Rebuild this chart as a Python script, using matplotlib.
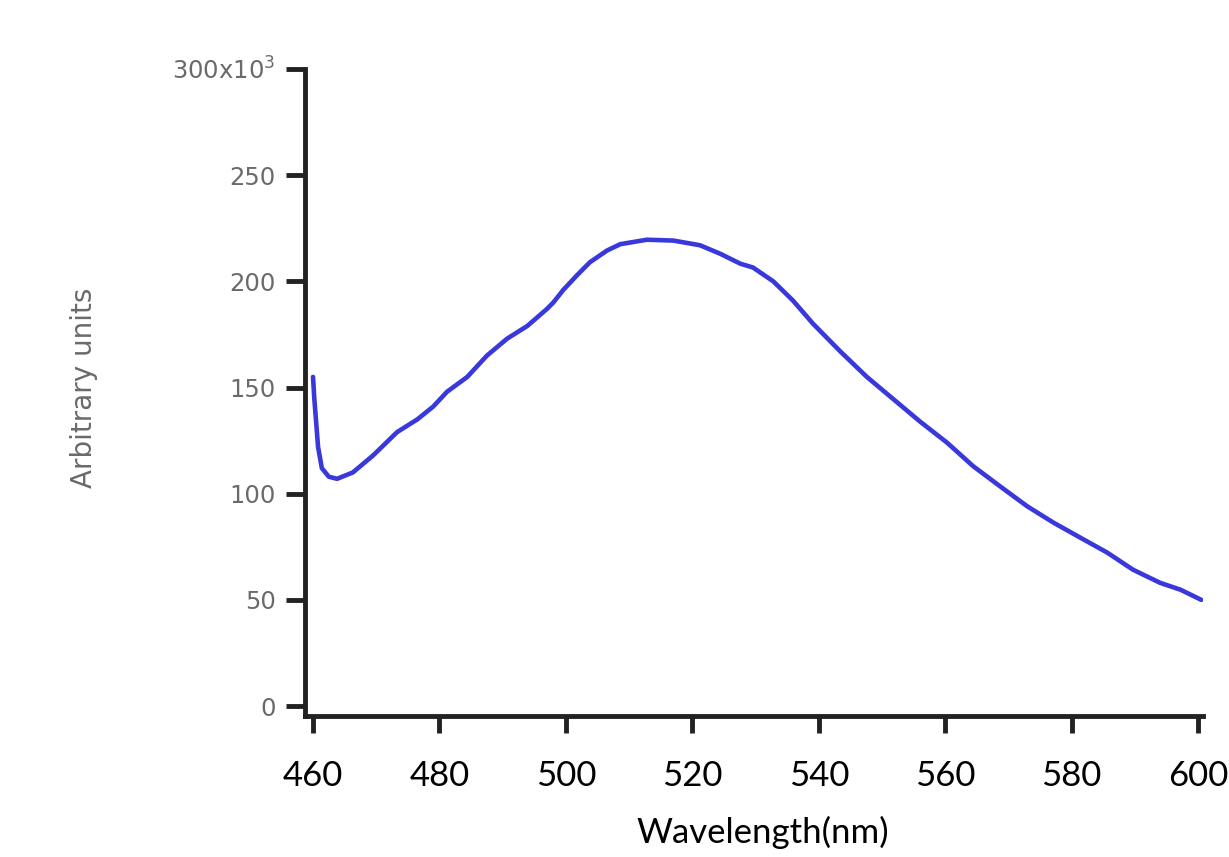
import matplotlib
matplotlib.use("Agg")
import matplotlib.pyplot as plt


# Emission spectrum, values
wavelength = [460.0, 460.2, 460.8, 461.4, 462.5, 463.8, 466.3, 469.5,
              473.3, 476.5, 479.0, 481.2, 484.4, 487.5, 490.7, 493.9,
              497.0, 498.0, 499.6, 501.8, 503.8, 506.5, 508.6, 512.8,
              517.0, 521.2, 524.4, 527.6, 529.6, 532.8, 535.9, 539.1,
              543.4, 547.6, 551.8, 556.0, 560.3, 564.4, 568.7, 573.0,
              577.1, 581.3, 585.6, 589.7, 594.0, 597.2, 600.5]
intensity = [155, 145, 122, 112, 108, 107, 110, 118,
             129, 135, 141, 148, 155, 165, 173, 179,
             187, 190, 196, 203, 209, 214.5, 217.5, 219.6,
             219.2, 217, 213, 208.3, 206.5, 200, 191, 180,
             167, 155, 144.5, 134, 124, 113, 103.4, 94,
             86.4, 79.4, 72.3, 64.2, 58, 54.8, 50]

x_ticks = [460, 480, 500, 520, 540, 560, 580, 600]
y_ticks = [0, 50, 100, 150, 200, 250, 300]
y_tick_labels = ["0", "50", "100", "150", "200", "250", "300x10$^3$"]


def main():
    '''
    Plot the spectrum with matplotlib and save it as out.png.
    '''
    plt.rcParams['mathtext.default'] = 'regular'

    fig = plt.figure(figsize=(12.29, 8.57), dpi=100)
    ax = fig.add_axes([0.248, 0.1645, 0.731, 0.755])

    # the curve itself
    ax.plot(wavelength, intensity, color="#3838dc", linewidth=3.3,
            solid_joinstyle="round", solid_capstyle="round")

    ax.set_xlim(458.7, 600.8)
    ax.set_ylim(-4.7, 300)

    # only left and bottom axis, thick and dark
    for side in ["top", "right"]:
        ax.spines[side].set_visible(False)
    for side in ["left", "bottom"]:
        ax.spines[side].set_linewidth(3.5)
        ax.spines[side].set_color("#222222")

    ax.set_xticks(x_ticks)
    ax.set_xticklabels([str(t) for t in x_ticks], family="Lato",
                       fontsize=25, color="black")
    ax.tick_params(axis="x", direction="out", length=12, width=3.5,
                   color="#222222", pad=20)

    ax.set_yticks(y_ticks)
    ax.set_yticklabels(y_tick_labels, family="DejaVu Sans",
                       fontsize=17.5, color="#6a6a6a")
    ax.tick_params(axis="y", direction="out", length=14, width=3.5,
                   color="#222222", pad=7)

    # axis titles
    fig.text(84 / 1229, 1 - 388 / 857, "Arbitrary units", rotation=90,
             ha="center", va="center", family="DejaVu Sans",
             fontsize=20, color="#6a6a6a")
    fig.text(763 / 1229, 1 - 832 / 857, "Wavelength(nm)", ha="center",
             va="center", family="Lato", fontsize=25, color="black")

    fig.savefig("out.png", dpi=100)


if __name__ == "__main__":
    main()
